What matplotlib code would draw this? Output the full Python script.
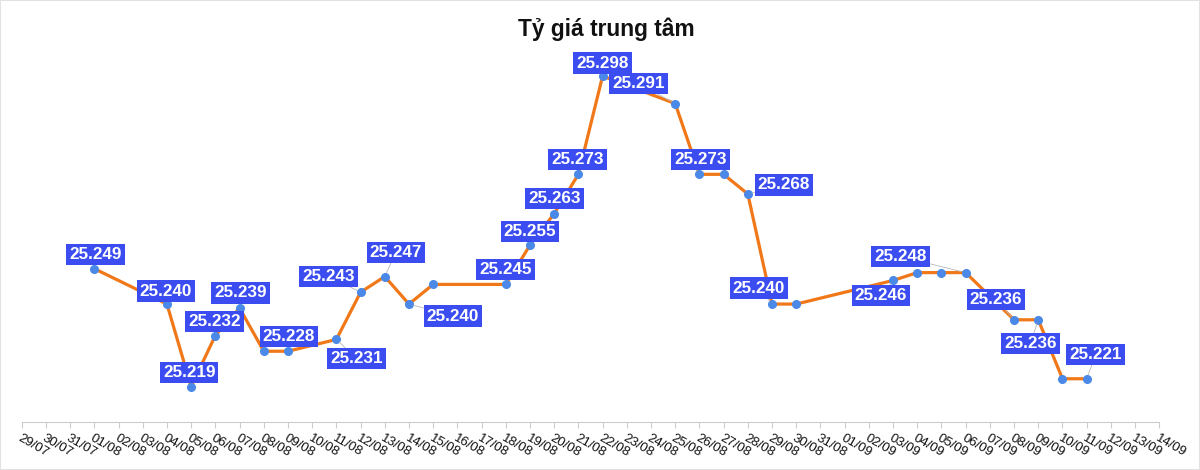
import matplotlib
matplotlib.use("Agg")
import matplotlib.pyplot as plt
import pandas as pd
from matplotlib.patches import Rectangle

plt.rcParams['font.family'] = ['Liberation Sans', 'DejaVu Sans']

# Axis categories (every day from 29/07 to 14/09)
tick_dates = pd.date_range("2025-07-29", "2025-09-14", freq="D")
tick_labels = [d.strftime("%d/%m") for d in tick_dates]

# Series: central exchange rate (thousand VND/USD)
dates = ["01/08", "04/08", "05/08", "06/08", "07/08", "08/08", "09/08", "11/08",
         "12/08", "13/08", "14/08", "15/08", "18/08", "19/08", "20/08", "21/08",
         "22/08", "25/08", "26/08", "27/08", "28/08", "29/08", "30/08", "03/09",
         "04/09", "05/09", "06/09", "08/09", "09/09", "10/09", "11/09"]
values = [25.249, 25.240, 25.219, 25.232, 25.239, 25.228, 25.228, 25.231,
          25.243, 25.247, 25.240, 25.245, 25.245, 25.255, 25.263, 25.273,
          25.298, 25.291, 25.273, 25.273, 25.268, 25.240, 25.240, 25.246,
          25.248, 25.248, 25.248, 25.236, 25.236, 25.221, 25.221]

# Which points carry a label, with label offset in pixels (dx, dy up)
label_dates = ["01/08", "04/08", "05/08", "06/08", "07/08", "09/08", "11/08",
               "12/08", "13/08", "14/08", "18/08", "19/08", "20/08", "21/08",
               "22/08", "25/08", "26/08", "28/08", "29/08", "03/09", "06/09",
               "08/09", "09/09", "11/09"]
label_offsets = [(1, 14), (-1, 13), (-2, 14), (-1, 14), (1, 15), (1, 15), (20, -19),
                 (-32, 16), (11, 24), (44, -12), (0, 15), (0, 14), (0, 15), (-1, 15),
                 (0, 13), (-37, 20), (1, 15), (36, 9), (-13, 16), (-12, -15), (-65, 16),
                 (-18, 20), (-8, -24), (9, 24)]

pos = {lab: i for i, lab in enumerate(tick_labels)}
xs = [pos[d] for d in dates]

fig = plt.figure(figsize=(12, 4.7), dpi=100)
fig.patches.append(Rectangle((0, 0), 1, 1, transform=fig.transFigure,
                             fill=False, edgecolor="#e2e2e2", lw=1.5))
ax = fig.add_axes([21.7 / 1200, 48 / 470, (1159.3 - 21.7) / 1200, (422 - 68.2) / 470])

ax.plot(xs, values, color="#f07818", lw=2.3, zorder=2, solid_joinstyle="round")
ax.plot(xs, values, "o", color="#4a89e8", ms=5.5, zorder=3)

for d, (dx, dy) in zip(label_dates, label_offsets):
    x = pos[d]
    y = values[dates.index(d)]
    far = abs(dx) > 5 or abs(dy) > 17
    ax.annotate(f"{y:.3f}", xy=(x, y), xytext=(dx, dy), textcoords="offset pixels",
                ha="center", va="center", fontsize=12.3, fontweight="bold", color="white",
                bbox=dict(boxstyle="square,pad=0.18", fc="#3b4df0", ec="none"),
                arrowprops=dict(arrowstyle="-", color="#b8b8b8", lw=0.6,
                                shrinkA=0, shrinkB=3) if far else None,
                zorder=5)

ax.set_xlim(0, len(tick_labels) - 1)
ax.set_ylim(25.21, 25.30)
ax.set_xticks(range(len(tick_labels)))
ax.set_xticklabels(tick_labels, rotation=-30, ha="left", rotation_mode="anchor",
                   fontsize=9.5, color="#111111")
ax.tick_params(axis="x", length=4, color="#cccccc", pad=3)
ax.set_yticks([])
for s in ["top", "right", "left"]:
    ax.spines[s].set_visible(False)
ax.spines["bottom"].set_color("#cccccc")
ax.set_facecolor("none")

fig.text(606 / 1200, 1 - 29 / 470, "Tỷ giá trung tâm", ha="center", va="center",
         fontsize=16.4, fontweight="bold", color="#111111")

fig.savefig("out.png", dpi=100, facecolor="white")
